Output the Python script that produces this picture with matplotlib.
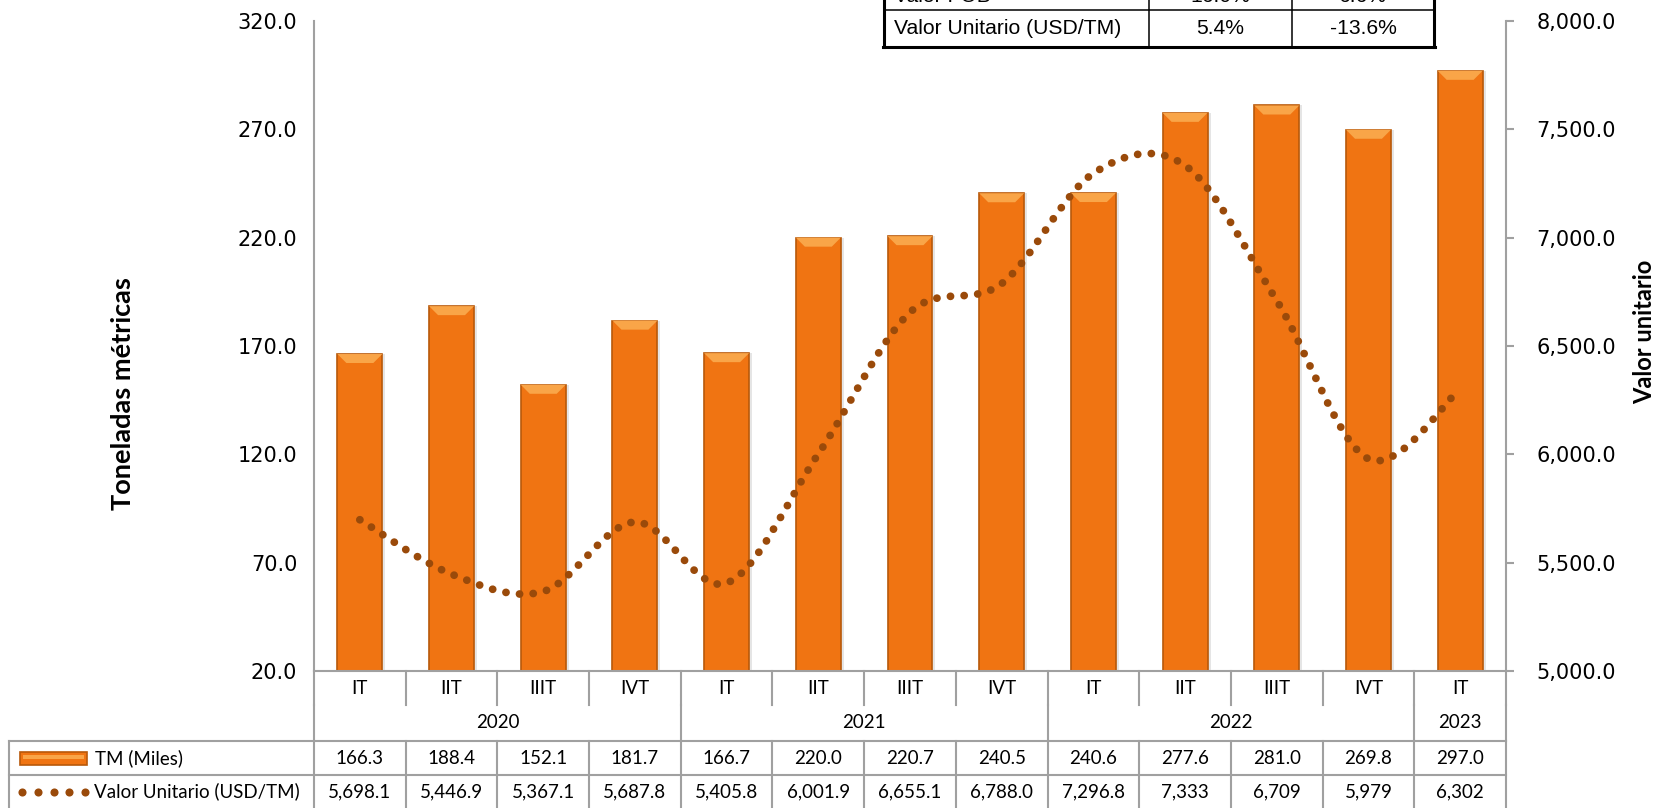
import numpy as np
import matplotlib
matplotlib.use('Agg')
import matplotlib.pyplot as plt
from matplotlib.path import Path
from matplotlib.patches import PathPatch, Polygon, Rectangle

# %% data
quarters = ['IT', 'IIT', 'IIIT', 'IVT', 'IT', 'IIT', 'IIIT', 'IVT', 'IT', 'IIT', 'IIIT', 'IVT', 'IT']
years = ['2020', '2021', '2022', '2023']
year_counts = [4, 4, 4, 1]
tm = [166.3, 188.4, 152.1, 181.7, 166.7, 220.0, 220.7, 240.5, 240.6, 277.6, 281.0, 269.8, 297.0]
unit_value = [5698.1, 5446.9, 5367.1, 5687.8, 5405.8, 6001.9, 6655.1, 6788.0, 7296.8, 7333, 6709, 5979, 6302]
unit_value_labels = ['5,698.1', '5,446.9', '5,367.1', '5,687.8', '5,405.8', '6,001.9', '6,655.1',
                     '6,788.0', '7,296.8', '7,333', '6,709', '5,979', '6,302']
var_rows = ['Valor FOB', 'Valor Unitario (USD/TM)']
var_qoq = ['16.0%', '5.4%']
var_yoy = ['6.6%', '-13.6%']

# %% styles
BAR_C = '#F07412'
BAR_EDGE = '#B8590A'
BAR_TOP = '#F9A548'
LINE_C = '#9A4A0A'
GRID_C = '#A0A0A0'
TXT_FONT = 'Lato'
TXT_SIZE = 13.5


def smooth_path(x, y):
    # Catmull-Rom like bezier (Excel "smoothed line")
    pts = np.column_stack([x, y]).astype(float)
    p = np.vstack([pts[0], pts, pts[-1]])
    verts = [pts[0]]
    codes = [Path.MOVETO]
    for i in range(1, len(p) - 2):
        c1 = p[i] + (p[i + 1] - p[i - 1]) / 6
        c2 = p[i + 1] - (p[i + 2] - p[i]) / 6
        verts += [c1, c2, p[i + 1]]
        codes += [Path.CURVE4] * 3
    return Path(verts, codes)


fig = plt.figure(figsize=(16.6, 8.08), dpi=100)
ax = fig.add_axes([314 / 1660, 1 - 671 / 808, (1506 - 314) / 1660, 650 / 808])
ax2 = ax.twinx()

x = np.arange(len(tm))
w = 0.49
cw = (1506 - 314) / len(tm)        # px per category
px_unit = 650 / 300                 # px per tonne unit

# bars with a soft shadow and a bevelled top
ax.bar(x + 3 / cw, tm, width=w, color='black', alpha=0.10, zorder=1)
ax.bar(x, tm, width=w, color=BAR_C, edgecolor=BAR_EDGE, linewidth=1.2, zorder=2)
ins = 9 / cw
hh = 9 / px_unit
for xi, v in zip(x, tm):
    ax.add_patch(Polygon([(xi - w / 2, v), (xi + w / 2, v), (xi + w / 2 - ins, v - hh), (xi - w / 2 + ins, v - hh)],
                         closed=True, facecolor=BAR_TOP, edgecolor='none', zorder=3))

ax.set_xlim(-0.5, len(tm) - 0.5)
ax.set_ylim(20, 320)
ax.set_yticks(np.arange(20, 321, 50))
ax.set_yticklabels(['%.1f' % v for v in np.arange(20, 321, 50)])
ax.set_xticks([])
ax.tick_params(axis='y', length=0, pad=12, labelsize=15, labelcolor='black')
for s in ['top', 'right']:
    ax.spines[s].set_visible(False)
ax.spines['left'].set_color(GRID_C)
ax.spines['bottom'].set_color(GRID_C)
ax.spines['left'].set_linewidth(1.5)
ax.spines['bottom'].set_linewidth(1.5)

# smoothed dotted line on the secondary axis
ax2.set_ylim(5000, 8000)
ax2.add_patch(PathPatch(smooth_path(x, unit_value), fill=False, edgecolor=LINE_C, linewidth=5.6,
                        linestyle=(0, (0.01, 1.75)), capstyle='round', zorder=5))
ax2.set_yticks(np.arange(5000, 8001, 500))
ax2.set_yticklabels(['{:,.1f}'.format(v) for v in np.arange(5000, 8001, 500)])
ax2.tick_params(axis='y', length=6, width=1.5, color=GRID_C, pad=16, labelsize=15)
for s in ['top', 'left', 'bottom']:
    ax2.spines[s].set_visible(False)
ax2.spines['right'].set_color(GRID_C)
ax2.spines['right'].set_linewidth(1.5)

# %% data table under the chart
tr = ax.get_xaxis_transform()
rows_px = [0, 34, 70, 104, 137]
ry = [-r / 650 for r in rows_px]
left_x = -0.5 - (314 - 9) / cw
line_kw = dict(transform=tr, clip_on=False, color=GRID_C, lw=1.5)

for b in np.arange(-0.5, len(tm), 1.0):
    ax.plot([b, b], [ry[0], ry[1]], **line_kw)
    ax.plot([b, b], [ry[2], ry[4]], **line_kw)
edges = np.concatenate([[0], np.cumsum(year_counts)]) - 0.5
for b in edges:
    ax.plot([b, b], [ry[1], ry[2]], **line_kw)
for yy in ry[2:4]:
    ax.plot([left_x, len(tm) - 0.5], [yy, yy], **line_kw)
ax.plot([left_x, left_x], [ry[2], ry[4]], **line_kw)

tk = dict(transform=tr, ha='center', va='center', fontsize=TXT_SIZE, family=TXT_FONT, clip_on=False)
for xi, q in zip(x, quarters):
    ax.text(xi, (ry[0] + ry[1]) / 2, q, **tk)
for i, yr in enumerate(years):
    ax.text((edges[i] + edges[i + 1]) / 2, (ry[1] + ry[2]) / 2, yr, **tk)
for xi, v, lab in zip(x, tm, unit_value_labels):
    ax.text(xi, (ry[2] + ry[3]) / 2, '%.1f' % v, **tk)
    ax.text(xi, (ry[3] + ry[4]) / 2, lab, **tk)


# legend keys inside the table
def px_to_x(p):
    return -0.5 - (314 - p) / cw


y3 = (ry[2] + ry[3]) / 2
y4 = (ry[3] + ry[4]) / 2
ax.add_patch(Rectangle((px_to_x(20), y3 - 6.5 / 650), (87 - 20) / cw, 13 / 650, transform=tr, clip_on=False,
                       facecolor=BAR_C, edgecolor=BAR_EDGE, lw=1.2))
ax.add_patch(Rectangle((px_to_x(23), y3 - 1 / 650), (84 - 23) / cw, 4 / 650, transform=tr, clip_on=False,
                       facecolor=BAR_TOP, edgecolor='none'))
ax.text(px_to_x(95), y3, 'TM (Miles)', transform=tr, ha='left', va='center', fontsize=TXT_SIZE,
        family=TXT_FONT, clip_on=False)
ax.scatter([px_to_x(p) for p in np.linspace(22, 85, 5)], [y4] * 5, s=34, color=LINE_C, transform=tr,
           clip_on=False, zorder=5, linewidths=0)
ax.text(px_to_x(94), y4, 'Valor Unitario (USD/TM)', transform=tr, ha='left', va='center', fontsize=TXT_SIZE,
        family=TXT_FONT, clip_on=False)

# %% axis titles
fig.text(123 / 1660, 1 - 394 / 808, 'Toneladas métricas', rotation=90, ha='center', va='center',
         fontsize=19.5, fontweight='bold', family=TXT_FONT)
fig.text(1645 / 1660, 1 - 332 / 808, 'Valor unitario', rotation=90, ha='center', va='center',
         fontsize=17, fontweight='bold', family=TXT_FONT)

# %% variation table at the top (cropped by the figure edge)
lay = fig.add_axes([0, 0, 1, 1], zorder=10)
lay.set_xlim(0, 1660)
lay.set_ylim(808, 0)
lay.axis('off')
lay.patch.set_visible(False)
cols = [884, 1149, 1292, 1434]
row_y = [-16, 10, 47]
lay.plot([cols[0], cols[0]], [-40, row_y[2]], color='black', lw=2.2)
lay.plot([cols[3], cols[3]], [-40, row_y[2]], color='black', lw=2.2)
for c in cols[1:3]:
    lay.plot([c, c], [-40, row_y[2]], color='black', lw=1.1)
lay.plot([cols[0], cols[3]], [row_y[1], row_y[1]], color='black', lw=1.1)
lay.plot([cols[0] - 1, cols[3] + 1], [row_y[2], row_y[2]], color='black', lw=2.2)
for i, name in enumerate(var_rows):
    yc = (row_y[i] + row_y[i + 1]) / 2
    lay.text(894, yc, name, ha='left', va='center', fontsize=15.2, family='Liberation Sans')
    lay.text((cols[1] + cols[2]) / 2, yc, var_qoq[i], ha='center', va='center', fontsize=15.2,
             family='Liberation Sans')
    lay.text((cols[2] + cols[3]) / 2, yc, var_yoy[i], ha='center', va='center', fontsize=15.2,
             family='Liberation Sans')

fig.savefig('out.png', dpi=100)
